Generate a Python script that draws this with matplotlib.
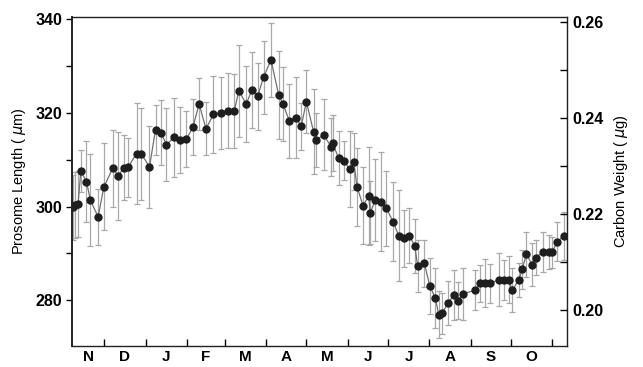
import matplotlib
matplotlib.use("Agg")
import matplotlib.pyplot as plt
import numpy as np

# days since 1 November
day = [6.8, 8.5, 10.5, 12.6, 16.8, 19.7, 25.5, 29.8, 36.5, 40.5, 45.0, 47.9, 54.2, 57.9,
       63.9, 68.4, 72.4, 76.6, 82.3, 86.6, 91.5, 96.3, 101.0, 106.1, 111.7, 117.3, 122.2,
       127.2, 130.7, 136.2, 140.5, 144.7, 149.1, 154.7, 160.4, 163.6, 168.4, 173.4, 177.3,
       181.1, 186.5, 188.6, 194.0, 199.8, 200.7, 205.2, 209.0, 213.5, 216.5, 219.0, 223.5,
       227.7, 228.9, 232.7, 236.9, 240.9, 245.9, 250.1, 253.9, 258.1, 262.1, 264.3, 269.3,
       273.3, 277.6, 280.0, 282.6, 287.1, 291.3, 294.2, 298.0, 307.5, 311.2, 315.0, 318.7,
       324.9, 328.7, 332.4, 334.9, 339.9, 342.4, 345.6, 349.9, 352.4, 358.1, 362.3, 364.8,
       368.6, 373.5]
length = [299.8, 300.3, 300.5, 307.6, 305.3, 301.4, 297.8, 304.2, 308.2, 306.6, 308.3, 308.4,
          311.3, 311.2, 308.5, 316.4, 315.8, 313.2, 314.8, 314.2, 314.4, 316.9, 321.9, 316.6,
          319.7, 319.9, 320.5, 320.4, 324.7, 321.9, 324.9, 323.5, 327.6, 331.3, 323.9, 321.9,
          318.3, 319.0, 317.1, 322.4, 316.0, 314.2, 315.3, 312.7, 313.5, 310.4, 309.8, 308.0,
          309.6, 304.2, 300.2, 302.2, 298.7, 301.4, 301.0, 299.6, 296.8, 293.8, 293.2, 293.8,
          291.6, 287.3, 287.9, 283.1, 280.4, 276.9, 277.2, 279.4, 281.1, 279.9, 281.3, 282.2,
          283.6, 283.6, 283.6, 284.4, 284.3, 284.4, 282.1, 284.3, 286.6, 289.8, 287.6, 289.1,
          290.3, 290.3, 290.2, 292.5, 293.7]
error = [7.0, 7.0, 7.0, 4.5, 8.6, 9.9, 6.0, 9.3, 8.2, 9.4, 7.0, 6.3, 10.8, 9.8, 8.8, 5.3, 7.0,
         7.8, 8.4, 7.0, 6.0, 6.0, 5.6, 5.7, 8.2, 7.7, 8.0, 8.0, 9.8, 8.2, 8.2, 7.2, 7.8, 7.9,
         9.4, 8.0, 7.9, 8.7, 5.0, 6.8, 9.0, 5.8, 7.6, 6.1, 6.0, 5.8, 4.1, 8.1, 6.0, 8.3, 8.2,
         10.5, 6.7, 8.8, 10.6, 8.0, 8.4, 9.8, 6.1, 5.8, 5.8, 5.6, 5.0, 6.0, 6.4, 5.0, 4.4, 4.6,
         5.3, 4.0, 5.6, 4.3, 4.0, 5.1, 4.1, 5.6, 4.3, 5.1, 4.7, 3.6, 4.2, 4.8, 4.6, 3.7, 4.3,
         3.6, 3.3, 4.1, 5.1]

month_starts = [30, 61, 92, 120, 151, 181, 212, 242, 273, 304, 334, 365]
month_labels = ["N", "D", "J", "F", "M", "A", "M", "J", "J", "A", "S", "O"]
month_label_pos = [18, 45.5, 76.5, 106, 135.5, 166, 196.5, 227, 257.5, 288.5, 319, 349.5]

left_ticks = [280, 300, 320, 340]
left_minor = [290, 310, 330]
right_ticks = [0.20, 0.22, 0.24, 0.26]
right_minor = [0.21, 0.23, 0.25]

plt.rcParams['font.family'] = ['Liberation Sans', 'DejaVu Sans']

fig = plt.figure(figsize=(6.43, 3.67), dpi=100)
ax = fig.add_axes([0.112, 0.057, 0.770, 0.897])

ax.errorbar(day, length, yerr=error, fmt='none', ecolor='#a8a8a8', elinewidth=0.9,
            capsize=2, capthick=0.9, zorder=1)
ax.plot(day, length, '-', color='#707070', lw=0.9, zorder=2)
ax.plot(day, length, 'o', color='#1e1e1e', ms=5, zorder=3)

ax.set_xlim(6, 376)
ax.set_ylim(270.2, 340.5)
ax.set_yticks(left_ticks)
ax.set_yticks(left_minor, minor=True)
ax.set_yticklabels([str(t) for t in left_ticks], fontsize=11.5, fontweight='bold')
ax.tick_params(axis='y', which='major', direction='out', length=4, width=1, pad=3)
ax.tick_params(axis='y', which='minor', direction='out', length=4, width=1)

ax.set_xticks(month_starts)
ax.set_xticklabels([])
ax.set_xticks(month_label_pos, minor=True)
ax.set_xticklabels(month_labels, minor=True, fontsize=11, fontweight='bold')
ax.tick_params(axis='x', which='major', direction='in', length=5, width=1)
ax.tick_params(axis='x', which='minor', length=0, pad=3)

ax.set_ylabel(r'Prosome Length ( $\mu$m)', fontsize=10.5, labelpad=5)

for s in ['left', 'bottom', 'right', 'top']:
    ax.spines[s].set_color('#222222')
ax.spines['left'].set_linewidth(1.4)
ax.spines['bottom'].set_linewidth(1.0)
ax.spines['right'].set_linewidth(1.0)
ax.spines['top'].set_linewidth(1.0)

ax2 = ax.twinx()
ax2.set_ylim(0.1925, 0.261)
ax2.set_yticks(right_ticks)
ax2.set_yticks(right_minor, minor=True)
ax2.set_yticklabels(["%.2f" % t for t in right_ticks], fontsize=11.5, fontweight='bold')
ax2.tick_params(axis='y', which='both', direction='in', length=5, width=1, pad=4)
ax2.set_ylabel(r'Carbon Weight ( $\mu$g)', fontsize=10.5, labelpad=6)
for s in ax2.spines.values():
    s.set_visible(False)

fig.savefig('out.png', dpi=100)
